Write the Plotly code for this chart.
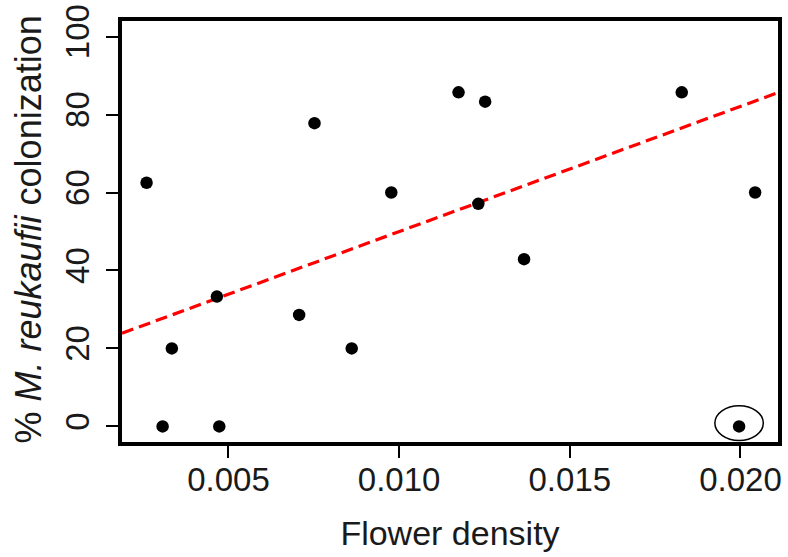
import plotly.graph_objects as go

# Data
flower_density = [0.00260, 0.00307, 0.00334, 0.00466, 0.00473, 0.00707, 0.00752,
                  0.00861, 0.00977, 0.01174, 0.01232, 0.01252, 0.01366, 0.01828,
                  0.01996, 0.02043]
colonization = [62.5, 0.0, 20.0, 33.3, 0.0, 28.6, 77.8,
                20.0, 60.0, 85.7, 57.1, 83.3, 42.9, 85.7,
                0.0, 60.0]

# fitted regression line
fit_intercept = 17.87
fit_slope = 3211.0

# circled outlier
outlier_x = 0.01996
outlier_y = 0.0

x_ticks = [0.005, 0.010, 0.015, 0.020]
x_tick_labels = ["0.005", "0.010", "0.015", "0.020"]
y_ticks = [0, 20, 40, 60, 80, 100]

x_range = [0.00188, 0.02110]
y_range = [-4, 104]

FONT = "Liberation Sans, Arial, Helvetica, sans-serif"
TXT = "#1a1a1a"

fig = go.Figure()

# regression line across full plot width
line_x = [x_range[0], x_range[1]]
line_y = [fit_intercept + fit_slope * v for v in line_x]
fig.add_trace(go.Scatter(
    x=line_x, y=line_y, mode="lines",
    line=dict(color="#FF0000", width=3.2, dash="12px,6px"),
    hoverinfo="skip", showlegend=False,
))

fig.add_trace(go.Scatter(
    x=flower_density, y=colonization, mode="markers",
    marker=dict(color="black", size=12.5, line=dict(width=0)),
    showlegend=False,
))

# ellipse around the outlier
fig.add_shape(
    type="circle", xref="x", yref="y",
    x0=outlier_x - 0.00071, x1=outlier_x + 0.00071,
    y0=outlier_y - 3.6, y1=outlier_y + 5.3,
    line=dict(color="black", width=1.5),
)

# y-axis title as annotation for precise placement
fig.add_annotation(
    text="% <i>M. reukaufii</i> colonization",
    xref="paper", yref="paper", x=0, y=0.5,
    xanchor="center", yanchor="middle", xshift=-94, yshift=2,
    textangle=-90, showarrow=False,
    font=dict(family=FONT, size=36, color=TXT),
)

axis_common = dict(
    showline=True, linecolor="black", linewidth=3.5, mirror=True,
    ticks="outside", ticklen=12, tickwidth=1.5, tickcolor="black",
    showgrid=False, zeroline=False, automargin=False,
    tickfont=dict(family=FONT, size=33, color=TXT),
)

fig.update_layout(
    width=788, height=557,
    margin=dict(l=122, r=10, t=21, b=115),
    paper_bgcolor="white", plot_bgcolor="white",
    xaxis=dict(
        range=x_range, tickvals=x_ticks, ticktext=x_tick_labels,
        ticklabelstandoff=-6,
        title=dict(text="Flower density", font=dict(family=FONT, size=34, color=TXT), standoff=25),
        **axis_common,
    ),
    yaxis=dict(
        range=y_range, tickvals=y_ticks, tickangle=-90, ticklabelstandoff=4,
        **axis_common,
    ),
)

fig.write_html(
    "out.html",
    config={"displayModeBar": False},
    post_script="document.body.style.margin='0';document.body.style.padding='0';"
                "document.body.style.overflow='hidden';",
)
